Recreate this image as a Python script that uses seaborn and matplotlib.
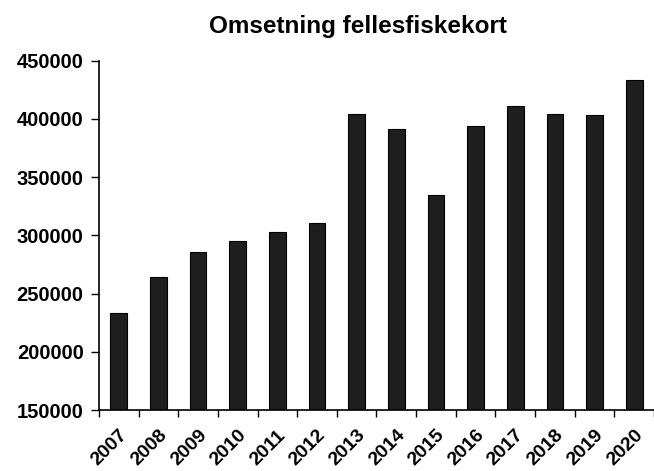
import matplotlib
matplotlib.use("Agg")
import matplotlib.pyplot as plt
import seaborn as sns
import pandas as pd
import numpy as np

years = ["2007", "2008", "2009", "2010", "2011", "2012", "2013",
         "2014", "2015", "2016", "2017", "2018", "2019", "2020"]
omsetning = [233500, 264000, 285500, 295500, 303000, 310500, 404500,
             391000, 335000, 394000, 411500, 404500, 403000, 433500]
title = "Omsetning fellesfiskekort"
yticks = [150000, 200000, 250000, 300000, 350000, 400000, 450000]

sns.set_theme(style="white")
plt.rcParams['font.family'] = ['Liberation Sans', 'DejaVu Sans']
plt.rcParams['text.color'] = 'black'
plt.rcParams['xtick.color'] = 'black'
plt.rcParams['ytick.color'] = 'black'

df = pd.DataFrame({"year": years, "value": omsetning})

fig = plt.figure(figsize=(6.54, 4.71), dpi=100)
ax = fig.add_axes([99/654, 1 - 410/471, 1 - 99/654, (410 - 60.7)/471])
sns.barplot(data=df, x="year", y="value", color="#1e1e1e", width=0.42,
            saturation=1, edgecolor="black", linewidth=0.8, ax=ax)

ax.set_ylim(150000, 450000)
ax.set_xlim(-0.5, 13.4)
ax.set_yticks(yticks)
ax.set_yticklabels([str(v) for v in yticks], fontsize=14.5, fontweight="bold")
ax.set_xticks(range(len(years)))
ax.set_xticklabels(years, rotation=45, ha="right", rotation_mode="anchor",
                   fontsize=14, fontweight="bold")
ax.tick_params(axis="x", which="major", length=0, pad=12)
ax.set_xticks(np.arange(-0.5, len(years), 1.0), minor=True)
ax.tick_params(axis="x", which="minor", length=5, width=1, color="black", direction="out", bottom=True)
ax.tick_params(axis="y", length=6, width=1, color="black", direction="out", left=True, pad=5)
ax.set_xlabel("")
ax.set_ylabel("")
for s in ["top", "right"]:
    ax.spines[s].set_visible(False)
for s in ["left", "bottom"]:
    ax.spines[s].set_color("black")
    ax.spines[s].set_linewidth(1.2)

fig.text(358/654, 1 - 26/471, title, ha="center", va="center",
         fontsize=17.5, fontweight="bold")

fig.savefig("out.png", dpi=100)
